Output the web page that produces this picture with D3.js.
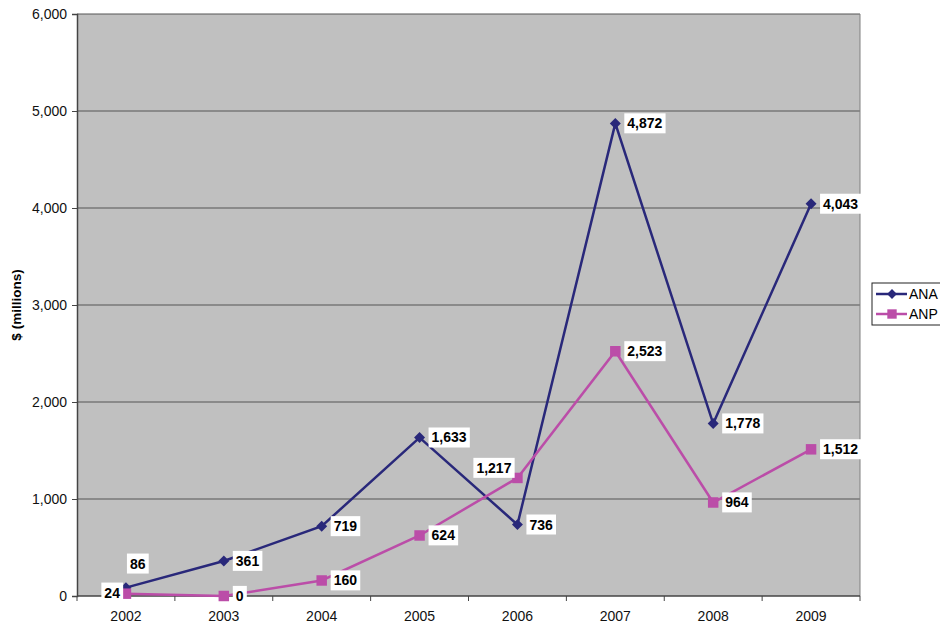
<!DOCTYPE html>
<html>
<head>
<meta charset="utf-8">
<script src="https://cdn.jsdelivr.net/npm/d3@7"></script>
<style>
  body { margin: 0; background: #fff; }
  text { font-family: Arial, "Liberation Sans", sans-serif; }
</style>
</head>
<body>
<svg id="chart" width="940" height="626"></svg>
<script>
const years = ["2002", "2003", "2004", "2005", "2006", "2007", "2008", "2009"];
const ana = [86, 361, 719, 1633, 736, 4872, 1778, 4043];
const anp = [24, 0, 160, 624, 1217, 2523, 964, 1512];
const yTicks = [0, 1000, 2000, 3000, 4000, 5000, 6000];

const svg = d3.select("#chart");
const plotLeft = 77, plotRight = 860, plotTop = 14, plotBottom = 596;

const x = d3.scaleBand().domain(years).range([plotLeft, plotRight]);
const y = d3.scaleLinear().domain([0, 6000]).range([plotBottom, plotTop]);
const fmt = d3.format(",");

// plot background
svg.append("rect")
  .attr("x", plotLeft).attr("y", plotTop)
  .attr("width", plotRight - plotLeft).attr("height", plotBottom - plotTop)
  .attr("fill", "#c0c0c0");

// gridlines
svg.append("g").selectAll("line")
  .data(yTicks.filter(d => d > 0))
  .join("line")
  .attr("x1", plotLeft).attr("x2", plotRight)
  .attr("y1", d => y(d)).attr("y2", d => y(d))
  .attr("stroke", "#555").attr("stroke-width", 1);

// right border
svg.append("line")
  .attr("x1", plotRight).attr("x2", plotRight).attr("y1", plotTop).attr("y2", plotBottom)
  .attr("stroke", "#808080");

// y axis
const yAxis = svg.append("g")
  .attr("transform", `translate(${plotLeft},0)`)
  .call(d3.axisLeft(y).tickValues(yTicks).tickFormat(fmt).tickSize(5).tickPadding(5));
yAxis.select(".domain").attr("stroke", "#444").attr("stroke-width", 1.5);
yAxis.selectAll(".tick line").attr("stroke", "#444");
yAxis.selectAll("text").attr("font-size", 14).attr("fill", "#111")
  .attr("font-family", "Arial, 'Liberation Sans', sans-serif");

// x axis with ticks at band edges
const xAxis = svg.append("g").attr("transform", `translate(0,${plotBottom})`);
xAxis.append("line")
  .attr("x1", plotLeft).attr("x2", plotRight).attr("y1", 0).attr("y2", 0)
  .attr("stroke", "#444").attr("stroke-width", 1.5);
xAxis.selectAll(".edge")
  .data(years.concat(["end"]))
  .join("line")
  .attr("class", "edge")
  .attr("x1", (d, i) => plotLeft + i * x.bandwidth())
  .attr("x2", (d, i) => plotLeft + i * x.bandwidth())
  .attr("y1", 0).attr("y2", 5)
  .attr("stroke", "#444");
xAxis.selectAll(".yr")
  .data(years)
  .join("text")
  .attr("class", "yr")
  .attr("x", d => x(d) + x.bandwidth() / 2)
  .attr("y", 25)
  .attr("text-anchor", "middle")
  .attr("font-size", 14)
  .attr("fill", "#111")
  .text(d => d);

// y title
svg.append("text")
  .attr("transform", `translate(21,${(plotTop + plotBottom) / 2}) rotate(-90)`)
  .attr("text-anchor", "middle")
  .attr("font-size", 13.5)
  .attr("font-weight", "bold")
  .text("$ (millions)");

const cx = d => x(d) + x.bandwidth() / 2;
const line = d3.line().x((d, i) => cx(years[i])).y(d => y(d));

// diamond = square turned 45 degrees (d3's diamond is too tall)
const series = [
  { name: "ANA", values: ana, color: "#29287a", size: 60, rot: 45 },
  { name: "ANP", values: anp, color: "#bb4da8", size: 110, rot: 0 }
];

series.forEach(s => {
  svg.append("path")
    .datum(s.values)
    .attr("d", line)
    .attr("fill", "none")
    .attr("stroke", s.color)
    .attr("stroke-width", 2.5);
});

series.forEach(s => {
  svg.append("g").selectAll("path")
    .data(s.values)
    .join("path")
    .attr("transform", (d, i) => `translate(${cx(years[i])},${y(d)}) rotate(${s.rot})`)
    .attr("d", d3.symbol().type(d3.symbolSquare).size(s.size))
    .attr("fill", s.color);
});

// data labels; a few were moved by hand in the original
const labelPos = {
  "ANA-0": [4, -24, "start"],
  "ANP-0": [-6, -1, "end"],
  "ANP-4": [-6, -10, "end"]
};

series.forEach(s => {
  s.values.forEach((v, i) => {
    const pos = labelPos[s.name + "-" + i] || [12, 0, "start"];
    const px = cx(years[i]) + pos[0];
    const py = y(v) + pos[1];
    const g = svg.append("g");
    const t = g.append("text")
      .attr("x", px).attr("y", py)
      .attr("dy", "0.35em")
      .attr("text-anchor", pos[2])
      .attr("font-size", 14)
      .attr("font-weight", "bold")
      .attr("fill", "#000")
      .text(fmt(v));
    const bb = t.node().getBBox();
    g.insert("rect", "text")
      .attr("x", bb.x - 3).attr("y", bb.y - 2)
      .attr("width", bb.width + 6).attr("height", bb.height + 4)
      .attr("fill", "#fff");
  });
});

// legend
const lg = svg.append("g").attr("transform", "translate(872,283)");
lg.append("rect")
  .attr("width", 80).attr("height", 42)
  .attr("fill", "#fff").attr("stroke", "#222");
series.forEach((s, i) => {
  const ly = 11 + i * 20;
  lg.append("line")
    .attr("x1", 4).attr("x2", 35).attr("y1", ly).attr("y2", ly)
    .attr("stroke", s.color).attr("stroke-width", 2.5);
  lg.append("path")
    .attr("transform", `translate(20,${ly}) rotate(${s.rot})`)
    .attr("d", d3.symbol().type(d3.symbolSquare).size(s.size * 0.8))
    .attr("fill", s.color);
  lg.append("text")
    .attr("x", 37).attr("y", ly).attr("dy", "0.35em")
    .attr("font-size", 14)
    .text(s.name);
});
</script>
</body>
</html>
